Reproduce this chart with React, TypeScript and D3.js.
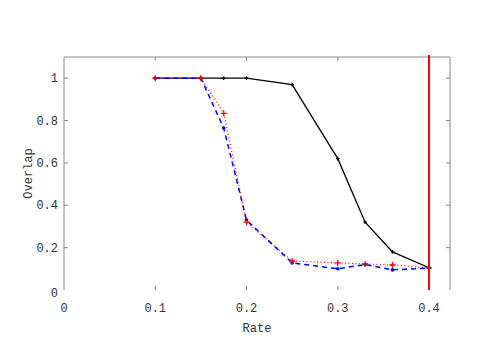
import React, { useEffect, useRef } from 'react';
import * as d3 from 'd3';

const rates = [0.1, 0.15, 0.175, 0.2, 0.25, 0.3, 0.33, 0.36, 0.4];
const blackVals = [1, 1, 1, 1, 0.97, 0.62, 0.32, 0.18, 0.105];
const redVals = [1, 1, 0.834, 0.32, 0.137, 0.128, 0.123, 0.118, 0.104];
const blueVals = [1, 1, 0.765, 0.33, 0.128, 0.1, 0.12, 0.095, 0.104];
const xTicks = [0, 0.1, 0.2, 0.3, 0.4];
const yTicks = [0, 0.2, 0.4, 0.6, 0.8, 1];
const markerRate = 0.4;

const App = () => {
  const svgRef = useRef<SVGSVGElement>(null);

  useEffect(() => {
    const width = 498;
    const height = 337;
    const left = 64;
    const right = 450;
    const top = 57;
    const bottom = 290;

    const x = d3.scaleLinear().domain([0, 0.423]).range([left, right]);
    const y = d3.scaleLinear().domain([0, 1.1]).range([bottom, top]);

    const svg = d3.select(svgRef.current)
      .attr('width', width)
      .attr('height', height)
      .attr('viewBox', [0, 0, width, height] as any);
    svg.selectAll('*').remove();

    svg.append('rect').attr('width', width).attr('height', height).attr('fill', '#fff');

    const axisColor = '#888';
    const textColor = '#333';
    const font = '"Liberation Mono", "DejaVu Sans Mono", monospace';

    // frame: left, top, right (no bottom line)
    svg.append('path')
      .attr('d', `M${left},${bottom}V${top}H${right}V${bottom}`)
      .attr('fill', 'none')
      .attr('stroke', axisColor)
      .attr('stroke-width', 1);

    // y ticks (left and right, inward)
    yTicks.forEach((t) => {
      if (t === 0) return;
      svg.append('line')
        .attr('x1', left).attr('x2', left + 4)
        .attr('y1', y(t)).attr('y2', y(t))
        .attr('stroke', axisColor);
      svg.append('line')
        .attr('x1', right).attr('x2', right - 4)
        .attr('y1', y(t)).attr('y2', y(t))
        .attr('stroke', axisColor);
    });
    // x ticks (top and bottom, inward)
    xTicks.forEach((t) => {
      if (t === 0) return;
      svg.append('line')
        .attr('x1', x(t)).attr('x2', x(t))
        .attr('y1', bottom).attr('y2', bottom - 4)
        .attr('stroke', axisColor);
      svg.append('line')
        .attr('x1', x(t)).attr('x2', x(t))
        .attr('y1', top).attr('y2', top + 4)
        .attr('stroke', axisColor);
    });

    // tick labels
    svg.append('g')
      .selectAll('text')
      .data(yTicks)
      .join('text')
      .attr('x', left - 6)
      .attr('y', (d) => (d === 0 ? y(d) + 7 : y(d) + 4))
      .attr('text-anchor', 'end')
      .attr('font-family', font)
      .attr('font-size', 12)
      .attr('fill', textColor)
      .text((d) => String(d));

    svg.append('g')
      .selectAll('text')
      .data(xTicks)
      .join('text')
      .attr('x', (d) => x(d))
      .attr('y', bottom + 22)
      .attr('text-anchor', 'middle')
      .attr('font-family', font)
      .attr('font-size', 12)
      .attr('fill', textColor)
      .text((d) => String(d));

    svg.append('text')
      .attr('x', (left + right) / 2)
      .attr('y', 332)
      .attr('text-anchor', 'middle')
      .attr('font-family', font)
      .attr('font-size', 12)
      .attr('fill', textColor)
      .text('Rate');

    svg.append('text')
      .attr('transform', `translate(32,${(top + bottom) / 2}) rotate(-90)`)
      .attr('text-anchor', 'middle')
      .attr('font-family', font)
      .attr('font-size', 12)
      .attr('fill', textColor)
      .text('Overlap');

    const line = d3.line<[number, number]>()
      .x((d) => x(d[0]))
      .y((d) => y(d[1]));

    const series = [
      { vals: blackVals, color: '#000', dash: null, width: 1.3, marker: 'plusSmall' },
      { vals: redVals, color: '#f00', dash: '1,2.5', width: 1.2, marker: 'plus' },
      { vals: blueVals, color: '#00f', dash: '5,4', width: 1.5, marker: 'dot' },
    ];

    // lines first
    series.forEach((s) => {
      const pts: [number, number][] = rates.map((r, i) => [r, s.vals[i]]);
      const path = svg.append('path')
        .attr('d', line(pts))
        .attr('fill', 'none')
        .attr('stroke', s.color)
        .attr('stroke-width', s.width);
      if (s.dash) path.attr('stroke-dasharray', s.dash);
    });

    // markers: blue, black, then red on top
    [series[2], series[0], series[1]].forEach((s) => {
      const g = svg.append('g');
      rates.forEach((r, i) => {
        const cx = x(r);
        const cy = y(s.vals[i]);
        if (s.marker === 'dot') {
          g.append('circle').attr('cx', cx).attr('cy', cy).attr('r', 1.8).attr('fill', s.color);
        } else {
          const a = s.marker === 'plus' ? 3 : 1.8;
          g.append('path')
            .attr('d', `M${cx - a},${cy}H${cx + a}M${cx},${cy - a}V${cy + a}`)
            .attr('stroke', s.color)
            .attr('stroke-width', 1.3);
        }
      });
    });

    // vertical marker line
    svg.append('line')
      .attr('x1', x(markerRate)).attr('x2', x(markerRate))
      .attr('y1', y(0)).attr('y2', top - 2)
      .attr('stroke', '#f00')
      .attr('stroke-width', 2);
  }, []);

  return (
    <svg ref={svgRef} style={{ position: 'absolute', left: 0, top: 0 }}></svg>
  );
};

export default App;
